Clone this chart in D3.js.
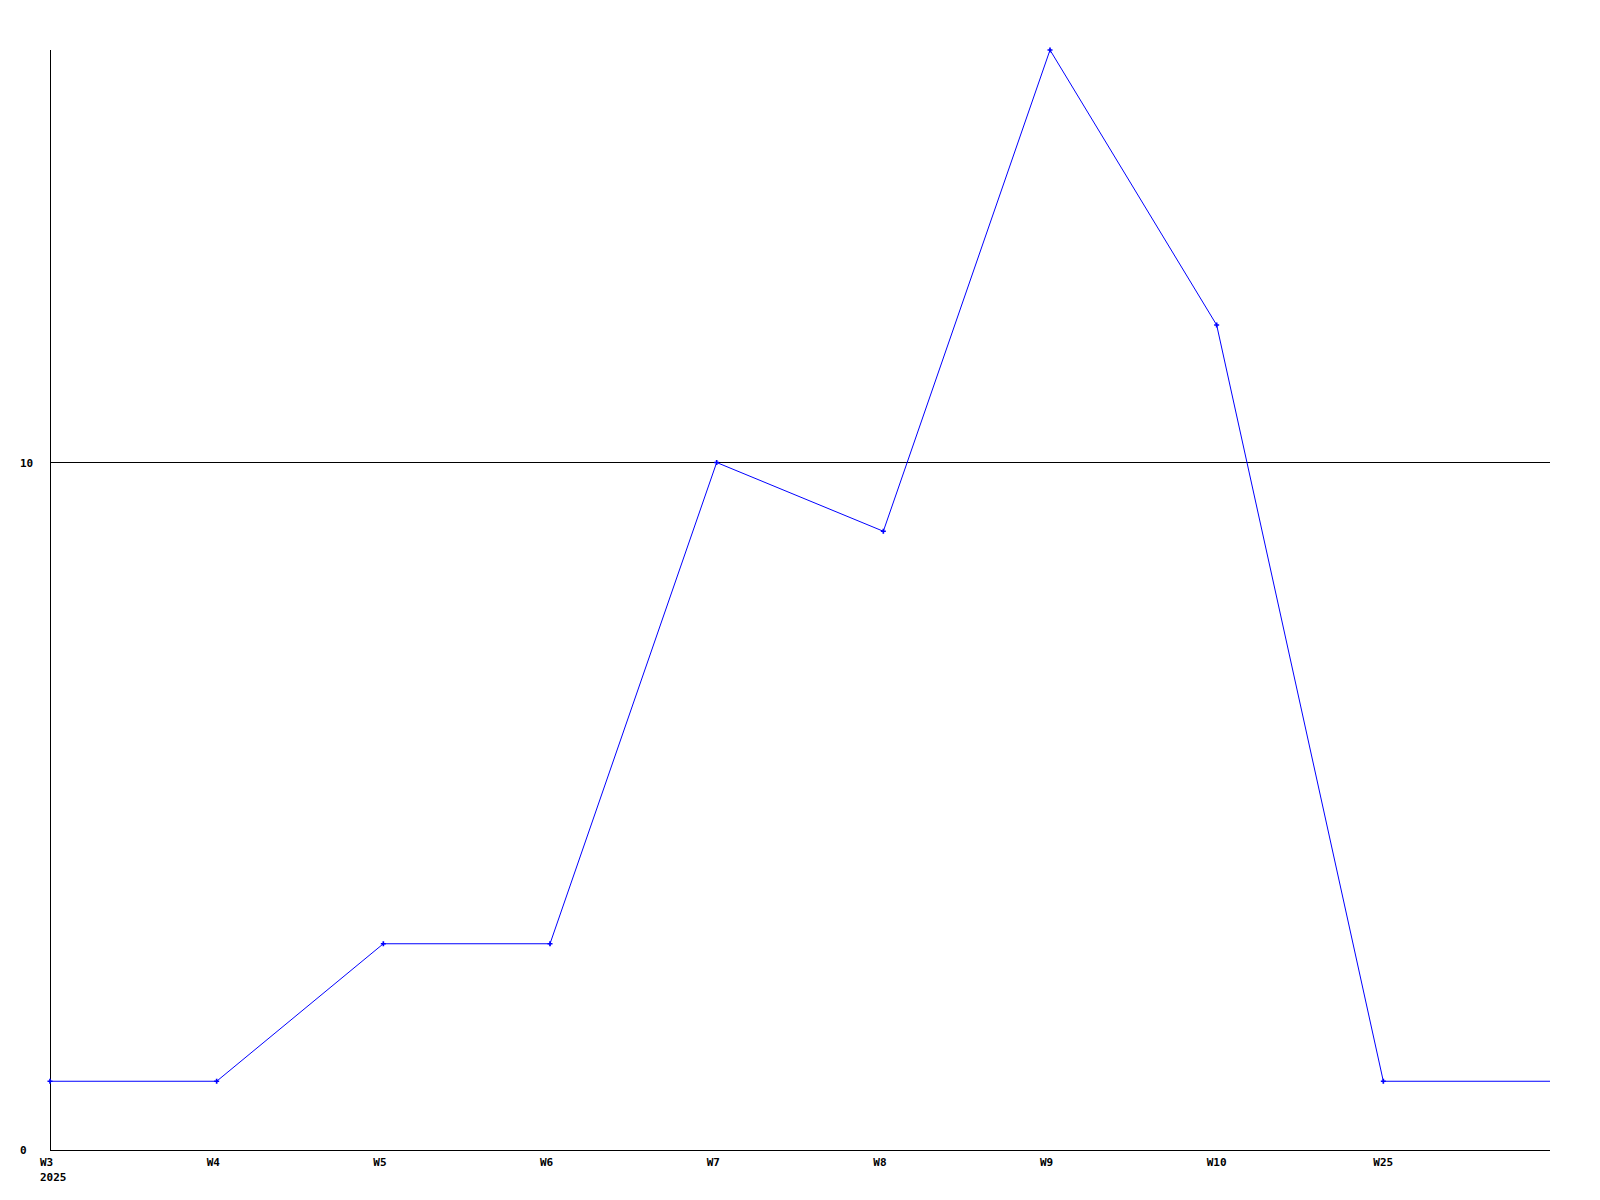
<!DOCTYPE html>
<html>
<head>
<meta charset="utf-8">
<script src="https://cdn.jsdelivr.net/npm/d3@7"></script>
<style>
  body { margin: 0; background: #fff; }
  text { font-family: "DejaVu Sans Mono", monospace; font-size: 11px; font-weight: bold; fill: #000; }
</style>
</head>
<body>
<div class="container"></div>
<script>
// chart data
const weeks = ["W3", "W4", "W5", "W6", "W7", "W8", "W9", "W10", "W25"];
const counts = [1, 1, 3, 3, 10, 9, 16, 12, 1];
const yTicks = [0, 10];
const yearLabel = "2025";

// svg dimensions
const width = 1600;
const height = 1200;
const plotLeft = 50, plotRight = 1550, plotTop = 50, plotBottom = 1150;

const svg = d3.select('.container')
    .append('svg')
    .attr('width', width)
    .attr('height', height)

// x: one slot per week, plus one empty slot at the right end
const xScale = d3.scaleLinear().domain([0, weeks.length]).range([plotLeft, plotRight])
const yScale = d3.scaleLinear().domain([0, 16]).range([plotBottom, plotTop])

// axes lines
svg.append('line')
    .attr('x1', plotLeft + 0.5).attr('x2', plotLeft + 0.5)
    .attr('y1', plotTop).attr('y2', plotBottom)
    .attr('stroke', '#000')
svg.append('line')
    .attr('x1', plotLeft).attr('x2', plotRight)
    .attr('y1', plotBottom + 0.5).attr('y2', plotBottom + 0.5)
    .attr('stroke', '#000')

// horizontal grid line + y labels
yTicks.forEach(t => {
    if (t > 0) {
        svg.append('line')
            .attr('x1', plotLeft).attr('x2', plotRight)
            .attr('y1', Math.floor(yScale(t)) + 0.5).attr('y2', Math.floor(yScale(t)) + 0.5)
            .attr('stroke', '#000')
    }
    svg.append('text')
        .attr('x', 20)
        .attr('y', yScale(t) + 4)
        .text(t)
})

// x labels
weeks.forEach((w, i) => {
    svg.append('text')
        .attr('x', xScale(i) - 10)
        .attr('y', 1166)
        .text(w)
})
svg.append('text')
    .attr('x', xScale(0) - 10)
    .attr('y', 1181)
    .text(yearLabel)

// line, carried on to the right edge at the last value
const pts = counts.map((v, i) => [xScale(i), yScale(v)])
pts.push([xScale(weeks.length), yScale(counts[counts.length - 1])])

svg.append('path')
    .attr('d', d3.line()(pts))
    .attr('fill', 'none')
    .attr('stroke', '#0000ff')
    .attr('stroke-width', 1)

// small markers
svg.selectAll('.dot')
    .data(counts)
    .enter()
    .append('path')
    .attr('class', 'dot')
    .attr('transform', (d, i) => `translate(${xScale(i)},${yScale(d)})`)
    .attr('d', d3.symbol().type(d3.symbolCross).size(14))
    .attr('fill', '#0000ff')
</script>
</body>
</html>
